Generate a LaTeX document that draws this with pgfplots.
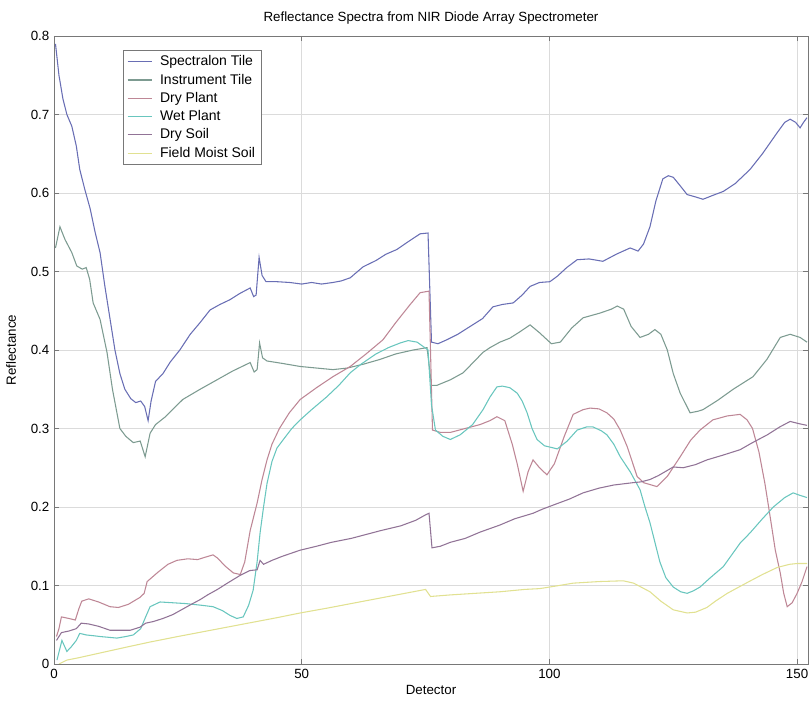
\documentclass[border=0pt]{standalone}
\usepackage{pgfplots}
\pgfplotsset{compat=1.18}
\usepackage{fontspec}
\setmainfont{Liberation Sans}

\definecolor{cSpec}{RGB}{105,110,180}
\definecolor{cInst}{RGB}{125,155,145}
\definecolor{cDryP}{RGB}{190,135,150}
\definecolor{cWetP}{RGB}{105,198,190}
\definecolor{cDryS}{RGB}{145,115,150}
\definecolor{cMoist}{RGB}{225,225,145}
\definecolor{cFrame}{RGB}{120,120,120}

\begin{document}
\begin{tikzpicture}[x=1pt,y=1pt]
\begin{axis}[
  at={(0,0)}, anchor=south west,
  scale only axis,
  width=565.5pt, height=471pt,
  xmin=0, xmax=152.2, ymin=0, ymax=0.8,
  xtick={0,50,100,150},
  ytick={0,0.1,0.2,0.3,0.4,0.5,0.6,0.7,0.8},
  /pgf/number format/assume math mode=true,
  /pgf/number format/.cd, fixed, precision=1, /pgfplots/.cd,
  tick label style={font=\fontsize{10}{12}\selectfont, text=black},
  tick align=inside,
  major tick length=4pt,
  every tick/.style={cFrame, line width=0.5pt},
  axis line style={cFrame, line width=0.6pt},
  grid=major,
  major grid style={gray!28, line width=0.4pt},
  title={Reflectance Spectra from NIR Diode Array Spectrometer},
  title style={at={(axis description cs:0.5,1.016)}, anchor=center, yshift=0pt,
               font=\fontsize{10}{12}\selectfont},
  xlabel={Detector},
  xlabel style={at={(axis description cs:0.5,-0.0414)}, anchor=center,
                font=\fontsize{10}{12}\selectfont},
  ylabel={Reflectance},
  ylabel style={at={(axis description cs:-0.057,0.5)}, anchor=center,
                font=\fontsize{10}{12}\selectfont},
  legend cell align=left,
  legend style={at={(axis description cs:0.0911,0.9777)}, anchor=north west,
                draw=cFrame, fill=white, line width=0.5pt,
                font=\fontsize{10.5}{12.5}\selectfont,
                row sep=0.6pt, inner xsep=3pt, inner ysep=2pt,
                /tikz/every odd column/.append style={column sep=4pt}},
  legend image code/.code={\draw[#1] (0pt,0pt) -- (18pt,0pt);},
  every axis plot/.append style={line width=0.8pt, mark=none},
]

% Spectralon Tile
\addplot[cSpec] coordinates {
(0.3,0.79) (1,0.75) (1.8,0.72) (2.6,0.70) (3.6,0.685) (4.5,0.66) (5.2,0.63)
(6.2,0.605) (7.3,0.58) (8.3,0.55) (9.3,0.524) (10.3,0.48) (11.3,0.44)
(12.3,0.40) (13.3,0.37) (14.3,0.35) (15.5,0.338) (16.5,0.333) (17.5,0.335)
(18.3,0.328) (19,0.31) (19.6,0.335) (20.5,0.36) (22,0.37) (23.5,0.385)
(25.4,0.40) (27.5,0.42) (29.5,0.435) (31.5,0.451) (33.5,0.458) (35.5,0.464)
(37.5,0.472) (39.6,0.479) (40.3,0.468) (40.8,0.47) (41.4,0.518) (42,0.495)
(42.8,0.487) (45,0.487) (47.6,0.486) (50,0.484) (52,0.486) (54,0.484)
(56.3,0.486) (58,0.488) (59.8,0.492) (62.4,0.506) (65,0.514) (67,0.522)
(69.2,0.528) (71.5,0.538) (73.9,0.548) (75.5,0.549) (76.2,0.41) (77.5,0.408)
(79.3,0.413) (81.5,0.42) (84,0.43) (86.5,0.44) (88.6,0.455) (90.5,0.458)
(92.7,0.46) (94.5,0.47) (96.1,0.481) (98,0.486) (100.1,0.487) (101.6,0.494)
(103.5,0.505) (105.6,0.515) (108,0.516) (110.8,0.513) (113.5,0.522)
(116.3,0.53) (117.9,0.526) (119,0.535) (120.3,0.557) (121.5,0.59)
(122.9,0.618) (124,0.622) (125,0.62) (126.3,0.61) (127.8,0.598) (129.5,0.595)
(131,0.592) (133,0.597) (135.1,0.602) (137.5,0.612) (140.5,0.63) (143,0.65)
(146,0.677) (147.5,0.69) (148.6,0.694) (149.7,0.69) (150.6,0.683)
(151.3,0.69) (152,0.696)
};
\addlegendentry{Spectralon Tile}

% Instrument Tile
\addplot[cInst] coordinates {
(0.3,0.53) (1.2,0.557) (2.2,0.541) (3.6,0.524) (4.6,0.507) (5.7,0.503)
(6.5,0.505) (7.2,0.49) (7.9,0.46) (9.3,0.439) (10.7,0.397) (11.8,0.35)
(13.3,0.30) (14.5,0.29) (16,0.282) (17.4,0.284) (18.4,0.264) (19.4,0.294)
(20.5,0.305) (22.5,0.315) (26,0.337) (29.5,0.35) (32.9,0.362) (36,0.373)
(39.6,0.384) (40.4,0.372) (41,0.375) (41.5,0.409) (42.1,0.39) (43,0.386)
(46,0.383) (49.7,0.379) (53,0.377) (56.3,0.375) (59.2,0.377) (62.5,0.382)
(65.8,0.388) (69,0.395) (72.5,0.40) (75.3,0.403) (76.2,0.355) (77.3,0.355)
(80,0.362) (82.6,0.371) (86.6,0.397) (88,0.403) (90,0.41) (92,0.415)
(94,0.423) (96.1,0.432) (98,0.422) (100.4,0.408) (102.2,0.41) (104.5,0.428)
(106.8,0.441) (110.2,0.447) (112.5,0.452) (113.7,0.456) (115,0.452)
(116.5,0.43) (118.3,0.416) (120,0.42) (121.3,0.426) (122.5,0.42)
(123.8,0.40) (125,0.37) (126.4,0.345) (128.4,0.32) (130,0.322) (131,0.324)
(134,0.336) (137.1,0.35) (141.1,0.366) (143.9,0.388) (146.6,0.416)
(148.6,0.42) (150.6,0.416) (152,0.41)
};
\addlegendentry{Instrument Tile}

% Dry Plant
\addplot[cDryP] coordinates {
(0.5,0.035) (1,0.045) (1.5,0.06) (3,0.058) (4.3,0.056) (5,0.07) (5.6,0.08)
(7,0.083) (9,0.079) (11.3,0.073) (13,0.072) (15,0.076) (17.4,0.085)
(18.2,0.09) (18.8,0.105) (21,0.117) (23,0.127) (24.8,0.132) (27,0.134)
(29,0.133) (30.5,0.136) (32.1,0.139) (33,0.135) (34.5,0.125) (36.2,0.116)
(37.6,0.114) (38.5,0.13) (39.6,0.17) (41,0.205) (42,0.235) (43,0.26)
(44,0.28) (45.5,0.30) (47.5,0.32) (49.7,0.337) (53,0.352) (56.3,0.366)
(59.8,0.379) (63,0.395) (66.4,0.413) (69,0.435) (71.9,0.458) (73.9,0.473)
(75.7,0.475) (76.4,0.298) (78,0.295) (80,0.295) (83,0.30) (86,0.305)
(88,0.31) (89.4,0.315) (91,0.31) (92.5,0.28) (93.5,0.255) (94.7,0.22)
(95.7,0.245) (96.7,0.26) (98,0.25) (99.5,0.241) (101,0.255) (103,0.29)
(104.8,0.318) (106.8,0.324) (108.2,0.326) (110,0.325) (111.6,0.32)
(113,0.312) (114.3,0.298) (115.7,0.277) (117.7,0.239) (119,0.231)
(121.7,0.226) (123.8,0.239) (126.4,0.264) (128.5,0.285) (130.4,0.298)
(133,0.311) (135.9,0.316) (138.5,0.318) (139.9,0.311) (141,0.30)
(142.3,0.27) (143.5,0.23) (144.5,0.19) (145.6,0.145) (146.6,0.116)
(147.3,0.09) (148,0.073) (149,0.078) (150,0.09) (151,0.105) (152,0.124)
};
\addlegendentry{Dry Plant}

% Wet Plant
\addplot[cWetP] coordinates {
(0.6,0.005) (1.6,0.03) (2.6,0.016) (3.5,0.022) (4.5,0.03) (5.2,0.039)
(6.5,0.037) (8,0.036) (9.3,0.035) (11,0.034) (12.7,0.033) (14.5,0.035)
(16,0.037) (17.5,0.045) (18.5,0.06) (19.4,0.073) (21.4,0.079) (24,0.078)
(26.5,0.077) (29.5,0.075) (32.1,0.073) (34,0.068) (35.5,0.062) (36.9,0.058)
(38.2,0.06) (39.3,0.075) (40.2,0.094) (41,0.13) (41.6,0.167) (42.3,0.2)
(43,0.23) (44,0.258) (45,0.275) (46.3,0.286) (48,0.30) (49.7,0.311)
(52,0.324) (55,0.34) (57.5,0.355) (59.8,0.371) (62,0.382) (65,0.395)
(67.5,0.403) (69.9,0.409) (71.5,0.412) (73.3,0.41) (75.5,0.40) (76.2,0.33)
(77,0.298) (78.5,0.29) (80,0.286) (82,0.292) (84.5,0.305) (86.6,0.324)
(88,0.34) (89.4,0.353) (90.5,0.354) (92,0.352) (93.5,0.345) (94.5,0.335)
(95.5,0.32) (96.5,0.30) (97.5,0.286) (99,0.278) (101.6,0.274) (103.6,0.284)
(105.6,0.298) (107.5,0.302) (108.8,0.302) (110.5,0.297) (111.6,0.292)
(113,0.28) (114.3,0.264) (116.3,0.245) (118.3,0.222) (119.3,0.20)
(120.3,0.18) (121.3,0.155) (122.3,0.13) (123.5,0.11) (125,0.098)
(126.5,0.092) (127.8,0.09) (129,0.093) (130.4,0.098) (132.5,0.11)
(135.1,0.124) (138.5,0.154) (140.5,0.167) (143,0.185) (145.2,0.20)
(147.5,0.212) (149.2,0.218) (150.5,0.215) (152,0.212)
};
\addlegendentry{Wet Plant}

% Dry Soil
\addplot[cDryS] coordinates {
(0.5,0.03) (1.5,0.04) (3,0.042) (4.5,0.045) (5.5,0.052) (7,0.051) (9,0.048)
(11.3,0.043) (13,0.043) (15.4,0.043) (17.4,0.047) (18.5,0.052) (20,0.054)
(22,0.058) (24,0.063) (26,0.07) (28,0.077) (29.5,0.082) (31,0.088)
(33,0.095) (35,0.103) (37.6,0.113) (39.5,0.119) (41,0.12) (41.6,0.132)
(42.3,0.127) (44,0.132) (46,0.137) (49.7,0.145) (53,0.15) (56,0.155)
(60,0.16) (63,0.165) (66,0.17) (70,0.176) (73,0.183) (75,0.19) (75.7,0.192)
(76.3,0.148) (78,0.15) (80,0.155) (83,0.16) (86,0.168) (90,0.177)
(93,0.185) (96.7,0.192) (98.5,0.197) (101,0.203) (104,0.21) (106.8,0.218)
(110,0.224) (113,0.228) (116.9,0.231) (118.5,0.232) (120.3,0.235)
(122,0.24) (125,0.251) (127,0.25) (129.5,0.254) (131.8,0.26) (135,0.266)
(138.5,0.273) (141,0.282) (144,0.292) (146.5,0.302) (148.6,0.309)
(150.5,0.306) (152,0.304)
};
\addlegendentry{Dry Soil}

% Field Moist Soil
\addplot[cMoist] coordinates {
(1,0.0) (2.6,0.005) (5,0.008) (10,0.015) (15,0.022) (19.4,0.028) (25,0.035)
(30,0.041) (35,0.047) (40,0.053) (45,0.059) (49.7,0.065) (55,0.071)
(60,0.077) (65,0.083) (70,0.089) (75,0.095) (76,0.086) (80,0.088) (85,0.09)
(90,0.092) (95,0.095) (98,0.096) (101,0.099) (104.8,0.103) (110,0.105)
(114.9,0.106) (117,0.103) (120.3,0.092) (122.5,0.08) (125,0.069)
(127.8,0.065) (129.5,0.066) (131.8,0.072) (133.5,0.08) (135.9,0.09)
(140,0.104) (143,0.114) (146,0.123) (148.5,0.127) (150,0.128) (152,0.128)
};
\addlegendentry{Field Moist Soil}

\end{axis}
\pgfresetboundingbox
\path[use as bounding box] (-40.5pt,-31.5pt) rectangle (567.75pt,498pt);
\end{tikzpicture}
\end{document}
